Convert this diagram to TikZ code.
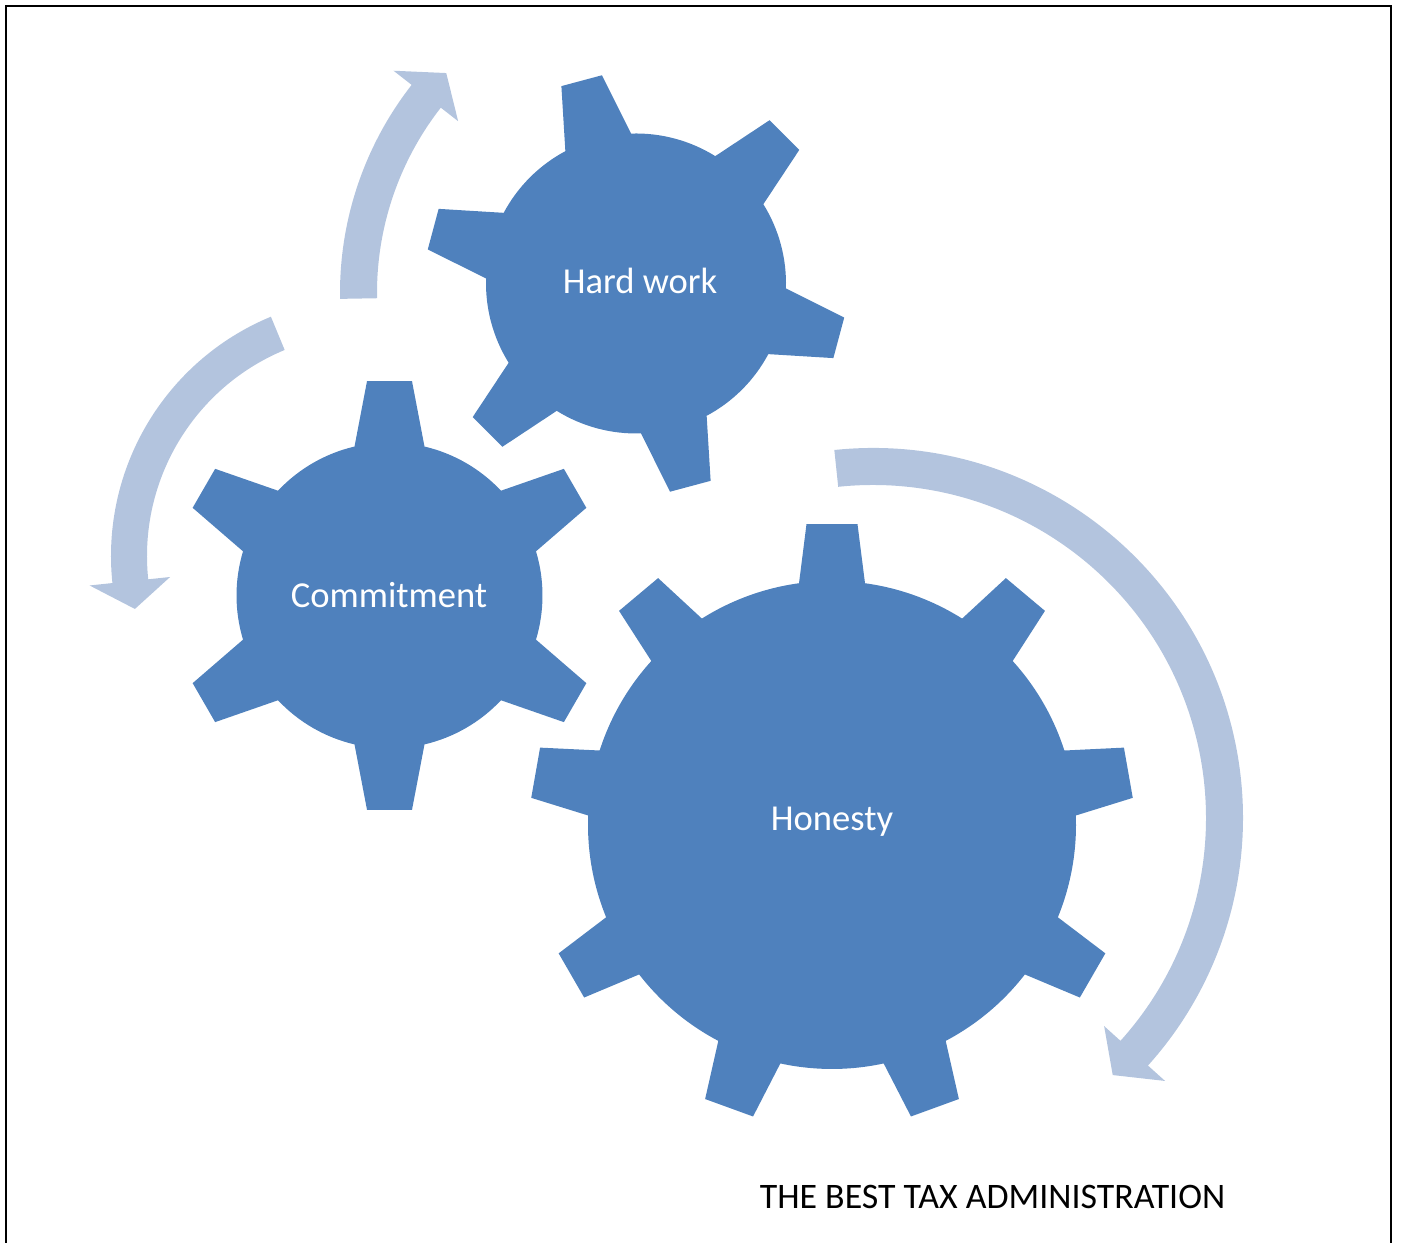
\documentclass[tikz,border=0pt]{standalone}
\usepackage{fontspec}
\setmainfont{Carlito}
\usepackage{xcolor}
\usetikzlibrary{calc}
\definecolor{gearblue}{RGB}{79,129,189}
\definecolor{arrowblue}{RGB}{179,196,222}

% gear: centre, teeth, first tooth angle, body radius, tip radius, tip half width, base half width
\newcommand{\drawgear}[7]{%
  \pgfmathsetmacro{\tipang}{asin(#6/#5)}%
  \pgfmathsetmacro{\baseang}{asin(#7/#4)}%
  \pgfmathsetmacro{\pitch}{360/#2}%
  \pgfmathtruncatemacro{\lastk}{#2-1}%
  \fill[gearblue, shift={#1}] ({#3-\baseang}:#4)
    \foreach \k in {0,...,\lastk}{
      -- ({#3+\k*\pitch-\tipang}:#5) -- ({#3+\k*\pitch+\tipang}:#5)
      -- ({#3+\k*\pitch+\baseang}:#4)
      arc[start angle={#3+\k*\pitch+\baseang}, delta angle={\pitch-2*\baseang}, radius=#4]
    } -- cycle;
}

% circular arrow: centre, from, to, inner radius, outer radius, tip angle
\newcommand{\circarrow}[6]{%
  \fill[arrowblue, shift={#1}] (#2:#5) arc[start angle=#2, end angle=#3, radius=#5]
    -- (#3:{#5+23}) -- (#6:{(#4+#5)/2}) -- (#3:{#4-22})
    -- (#3:#4) arc[start angle=#3, end angle=#2, radius=#4] -- cycle;
}

\begin{document}
\begin{tikzpicture}[x=0.01cm, y=0.01cm,
    gearlabel/.style={text=white, font=\fontsize{10.4}{12}\selectfont, inner sep=0pt, anchor=base},
    caption/.style={text=black, font=\fontsize{10.2}{12}\selectfont, inner sep=0pt, anchor=base}]
    \useasboundingbox (0,0) rectangle (1403,1243);
    \clip (0,0) rectangle (1403,1243);

    % Draw the frame
    \draw[line width=0.65pt] (6,-20) -- (6,1237) -- (1391,1237) -- (1391,-20);

    % Draw the arrows
    \circarrow{(678,950)}{181}{142}{301}{338}{136.5}
    \circarrow{(370,687)}{112.5}{186}{223}{259}{192.7}
    \circarrow{(873,425)}{96}{-42}{333}{370}{-47}

    % Draw the gears
    \drawgear{(636,959.5)}{6}{105}{150}{211}{21}{34}
    \drawgear{(389.5,647.5)}{6}{90}{153}{215.5}{22.5}{35}
    \drawgear{(832,418)}{9}{90}{244}{302}{25.5}{33}

    % Gear labels
    \node[gearlabel] (hardwork) at (640,949.5) {Hard work};
    \node[gearlabel] (commitment) at (389,635.5) {Commitment};
    \node[gearlabel] (honesty) at (832,412.5) {Honesty};

    % Caption
    \node[caption] (caption) at (992.5,34.5) {THE BEST TAX ADMINISTRATION};
\end{tikzpicture}
\end{document}
